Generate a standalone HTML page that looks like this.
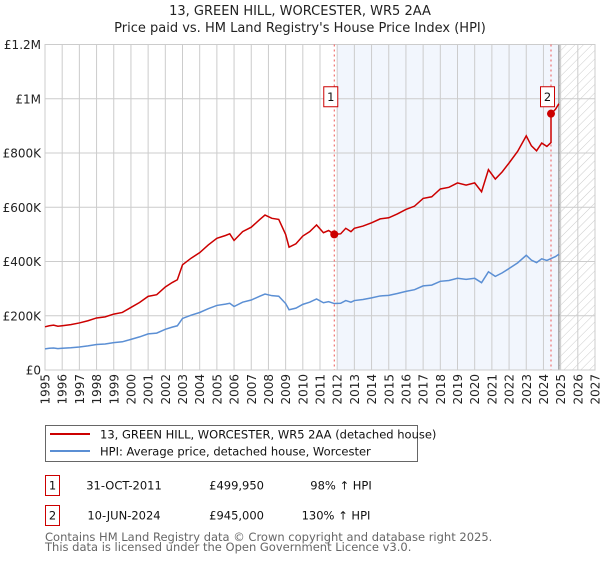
<!DOCTYPE html>
<html><head><meta charset="utf-8"><style>
body{margin:0;background:#fff;font-family:"Liberation Sans","DejaVu Sans",sans-serif;}
svg text{font-family:"DejaVu Sans","Liberation Sans",sans-serif;}
</style></head><body>
<svg id="chart" width="600" height="560" viewBox="0 0 600 560" xmlns="http://www.w3.org/2000/svg">
<defs>
<pattern id="hatch" width="6" height="6" patternUnits="userSpaceOnUse" patternTransform="rotate(45)">
<line x1="0" y1="0" x2="0" y2="6" stroke="#ccc" stroke-width="1"/>
</pattern>
</defs>
<text x="300" y="15" text-anchor="middle" font-size="13" fill="#222">13, GREEN HILL, WORCESTER, WR5 2AA</text>
<text x="300" y="32" text-anchor="middle" font-size="13" fill="#222">Price paid vs. HM Land Registry's House Price Index (HPI)</text>
<g id="plot"></g>
<g id="legend">
<rect x="45.5" y="425.5" width="372" height="36" fill="#fff" stroke="#666"/>
<line x1="50" y1="434" x2="90" y2="434" stroke="#cc0000" stroke-width="2"/>
<text x="100" y="438.5" font-size="11.5" fill="#111">13, GREEN HILL, WORCESTER, WR5 2AA (detached house)</text>
<line x1="50" y1="451" x2="90" y2="451" stroke="#5b8fd4" stroke-width="2"/>
<text x="100" y="455.5" font-size="11.5" fill="#111">HPI: Average price, detached house, Worcester</text>
</g>
<g font-size="11.5" fill="#111">
<rect x="45.5" y="475.5" width="14" height="20" fill="#fff" stroke="#cc0000"/>
<text x="52.5" y="489.5" text-anchor="middle">1</text>
<text x="124" y="489.5" text-anchor="middle">31-OCT-2011</text>
<text x="264" y="489.5" text-anchor="end">£499,950</text>
<text x="341" y="489.5" text-anchor="middle">98% ↑ HPI</text>
<rect x="45.5" y="505.5" width="14" height="20" fill="#fff" stroke="#cc0000"/>
<text x="52.5" y="519.5" text-anchor="middle">2</text>
<text x="124" y="519.5" text-anchor="middle">10-JUN-2024</text>
<text x="264" y="519.5" text-anchor="end">£945,000</text>
<text x="336" y="519.5" text-anchor="middle">130% ↑ HPI</text>
</g>
<text x="45" y="541" font-size="11.5" fill="#666">Contains HM Land Registry data © Crown copyright and database right 2025.</text>
<text x="45" y="551" font-size="11.5" fill="#666">This data is licensed under the Open Government Licence v3.0.</text>
</svg>
<script>
const yTickValues=[0,200000,400000,600000,800000,1000000,1200000];
const yTickLabels=["£0","£200K","£400K","£600K","£800K","£1M","£1.2M"];
const xTickYears=[1995,1996,1997,1998,1999,2000,2001,2002,2003,2004,2005,2006,2007,2008,2009,2010,2011,2012,2013,2014,2015,2016,2017,2018,2019,2020,2021,2022,2023,2024,2025,2026,2027];
const hpiDates=[1995,1995.25,1995.5,1995.75,1996,1996.5,1997,1997.5,1998,1998.5,1999,1999.5,2000,2000.5,2001,2001.5,2002,2002.4,2002.7,2003,2003.5,2004,2004.5,2005,2005.5,2005.75,2006,2006.5,2007,2007.5,2007.8,2008.2,2008.6,2009,2009.2,2009.6,2010,2010.4,2010.8,2011.2,2011.5,2011.83,2012.2,2012.5,2012.8,2013,2013.5,2014,2014.5,2015,2015.5,2016,2016.5,2017,2017.5,2018,2018.5,2019,2019.5,2020,2020.4,2020.8,2021.2,2021.6,2022,2022.5,2023,2023.3,2023.6,2023.9,2024.2,2024.44,2024.7,2024.9];
const hpiValues=[78000,80000,81000,79000,80000,82000,85000,89000,94000,96000,101000,104000,113000,122000,133000,136000,150000,158000,163000,190000,202000,212000,226000,238000,243000,246000,234000,250000,258000,272000,280000,274000,272000,245000,222000,228000,242000,250000,262000,248000,252000,245000,246000,256000,250000,256000,260000,266000,273000,275000,282000,290000,296000,310000,313000,327000,330000,338000,334000,338000,322000,362000,345000,358000,374000,395000,423000,405000,396000,410000,404000,411000,418000,427000];
const saleDates=[2011.83,2024.44];
const salePrices=[499950,945000];
const saleLabels=["1","2"];

const X0=45,X1=595,Y0=370,Y1=44.5;
const xs=y=>X0+(y-1995)/(2027-1995)*(X1-X0);
const ys=v=>Y0-v/1200000*(Y0-Y1);
const NS="http://www.w3.org/2000/svg";
const plot=document.getElementById('plot');
function mk(tag,attrs,parent){const e=document.createElementNS(NS,tag);for(const k in attrs)e.setAttribute(k,attrs[k]);(parent||plot).appendChild(e);return e;}
function hpiAt(d){for(let i=0;i<hpiDates.length-1;i++){if(d>=hpiDates[i]&&d<=hpiDates[i+1]){const t=(d-hpiDates[i])/(hpiDates[i+1]-hpiDates[i]);return hpiValues[i]+t*(hpiValues[i+1]-hpiValues[i]);}}return hpiValues[hpiValues.length-1];}

const band=mk('rect',{x:xs(2012),y:Y1,width:xs(2024.9)-xs(2012),height:Y0-Y1,fill:'#eef3fc',opacity:0.75});


const hatch=mk('rect',{x:xs(2024.9),y:Y1,width:X1-xs(2024.9),height:Y0-Y1,fill:'url(#hatch)'});



yTickValues.forEach((v,i)=>{
 const l=mk('line',{x1:X0,x2:X1,y1:ys(v),y2:ys(v),stroke:'#ccc','stroke-width':1});
 
 
 const t=mk('text',{x:X0-4,y:ys(v)+4.5,'text-anchor':'end','font-size':12,fill:'#222'});
 t.textContent=yTickLabels[i];
 
 
});
xTickYears.forEach(yr=>{
 const l=mk('line',{x1:xs(yr),x2:xs(yr),y1:Y1,y2:Y0,stroke:'#ccc','stroke-width':1});
 
 
 const t=mk('text',{x:0,y:0,'text-anchor':'end','font-size':12,fill:'#222',transform:`translate(${xs(yr)+4.5},${Y0+4}) rotate(-90)`});
 t.textContent=yr;
 
 
});
const edge=mk('line',{x1:xs(2024.9),x2:xs(2024.9),y1:Y1,y2:Y0,stroke:'#888','stroke-width':1.2});


const frame=mk('rect',{x:X0,y:Y1,width:X1-X0,height:Y0-Y1,fill:'none',stroke:'#ccc'});



saleDates.forEach((d,i)=>{
 const l=mk('line',{x1:xs(d),x2:xs(d),y1:Y1,y2:Y0,stroke:'#ee5555','stroke-width':1,'stroke-dasharray':'2,3'});
 
 
});

const hp=mk('polyline',{points:hpiDates.map((d,i)=>xs(d)+','+ys(hpiValues[i])).join(' '),fill:'none',stroke:'#5b8fd4','stroke-width':1.5});



const r1=salePrices[0]/hpiAt(saleDates[0]);
const r2=salePrices[1]/hpiAt(saleDates[1]);
let pts=[];
hpiDates.forEach((d,i)=>{
 if(d<saleDates[1])pts.push(xs(d)+','+ys(hpiValues[i]*r1));
 if(d<saleDates[1]&&i+1<hpiDates.length&&hpiDates[i+1]>=saleDates[1]){pts.push(xs(saleDates[1])+','+ys(hpiAt(saleDates[1])*r1));pts.push(xs(saleDates[1])+','+ys(salePrices[1]));}
 if(d>saleDates[1])pts.push(xs(d)+','+ys(hpiValues[i]*r2));
});
const pl=mk('polyline',{points:pts.join(' '),fill:'none',stroke:'#cc0000','stroke-width':1.5});



saleDates.forEach((d,i)=>{
 const c=mk('circle',{cx:xs(d),cy:ys(salePrices[i]),r:4,fill:'#cc0000'});
 
 
 const bx=xs(d)-10.5,by=ys(1000000)-12;
 const b=mk('rect',{x:bx,y:by,width:14,height:20,fill:'#fff',stroke:'#cc0000'});
 
 
 const t=mk('text',{x:bx+7,y:by+14,'text-anchor':'middle','font-size':11.5,fill:'#111'});
 t.textContent=saleLabels[i];
 
 
});
</script>
</body></html>
